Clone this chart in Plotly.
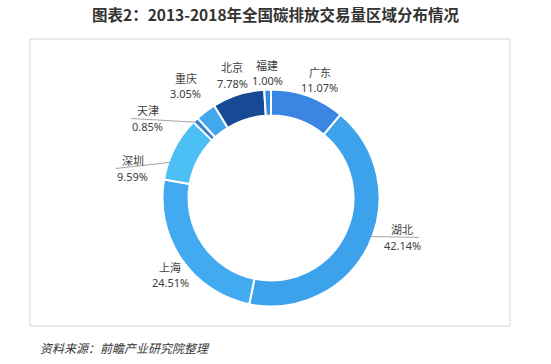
import math
import plotly.graph_objects as go

# ---------------- data ----------------
regions = ["广东", "湖北", "上海", "深圳", "天津", "重庆", "北京", "福建"]
shares = [11.07, 42.14, 24.51, 9.59, 0.85, 3.05, 7.78, 1.00]
title_text = "图表2：2013-2018年全国碳排放交易量区域分布情况"
source_text = "资料来源：前瞻产业研究院整理"

# ---------------- style ----------------
colors = ["#3B86E2", "#3DA2EC", "#42AAF0", "#4BC0F5",
          "#3A7FD0", "#43A7EE", "#174A94", "#3A8ADB"]
W, H = 551, 364
CX, CY, R = 271, 198, 108.5
HOLE = 0.76
FONT = "Noto Sans CJK SC, Noto Sans, sans-serif"
NUMFONT = "Noto Sans, sans-serif"
# label placement relative to each slice's mid-angle (degrees / px beyond the ring)
label_turn = [2.5, -9, -3, -15, -13, 0, 0, 0]
label_gap = [-1, 7, -5, 12, 15, 10, 1, 2]
leader = [False, True, False, True, True, False, False, False]
LW, LH = 36, 29
LINE_STEP = 8


def px(x):
    return x / W


def py(y):
    return 1 - y / H


fig = go.Figure(go.Pie(
    labels=regions, values=shares, sort=False, direction="clockwise",
    rotation=0, hole=HOLE, textinfo="none", showlegend=False,
    hoverinfo="label+percent",
    marker=dict(colors=colors, line=dict(color="white", width=2)),
    domain=dict(x=[px(CX - R), px(CX + R)], y=[py(CY + R), py(CY - R)]),
))

annotations = []
shapes = []
total = sum(shares)
cum = 0.0
for name, v, turn, gap, lead in zip(regions, shares, label_turn, label_gap, leader):
    a0 = cum / total * 360
    a1 = (cum + v) / total * 360
    mid = (a0 + a1) / 2
    cum += v
    th = math.radians(mid + turn)
    dx, dy = math.sin(th), -math.cos(th)
    support = abs(dx) * LW / 2 + abs(dy) * LH / 2
    r = R + gap + support
    lx, ly = CX + r * dx, CY + r * dy
    annotations.append(dict(
        x=px(lx), y=py(ly - LINE_STEP), xref="paper", yref="paper",
        text=name, showarrow=False, xanchor="center", yanchor="middle",
        font=dict(family=FONT, size=11, color="#404040"),
    ))
    annotations.append(dict(
        x=px(lx), y=py(ly + LINE_STEP), xref="paper", yref="paper",
        text=f"{v:.2f}%", showarrow=False, xanchor="center", yanchor="middle",
        font=dict(family=NUMFONT, size=11, color="#404040"),
    ))
    if lead:
        ea = mid + 0.5 * turn
        ea = min(max(ea, a0 + 1), a1 - 1)
        ea = math.radians(ea)
        ex, ey = CX + (R - 2) * math.sin(ea), CY - (R - 2) * math.cos(ea)
        sx = lx + (1 if dx > 0 else -1) * (LW / 2 - 1)
        shapes.append(dict(type="line", xref="paper", yref="paper",
                           x0=px(sx), y0=py(ly), x1=px(ex), y1=py(ey),
                           line=dict(color="#A6A6A6", width=1)))

# frame
shapes.append(dict(type="rect", xref="paper", yref="paper",
                   x0=px(30), x1=px(510), y0=py(326), y1=py(39),
                   line=dict(color="#D4D4D4", width=1), layer="below"))

annotations.append(dict(
    x=px(275.5), y=py(14), xref="paper", yref="paper", text=f"<b>{title_text}</b>",
    showarrow=False, xanchor="center", yanchor="middle",
    font=dict(family=FONT, size=15.5, color="#333333")))
annotations.append(dict(
    x=px(38), y=py(347), xref="paper", yref="paper", text=f"<i>{source_text}</i>",
    showarrow=False, xanchor="left", yanchor="middle",
    font=dict(family=FONT, size=12, color="#333333")))

fig.update_layout(
    width=W, height=H, margin=dict(l=0, r=0, t=0, b=0),
    paper_bgcolor="white", plot_bgcolor="white",
    annotations=annotations, shapes=shapes,
)
fig.write_html(
    "out.html",
    config={"displayModeBar": False},
    post_script="document.body.style.margin='0';document.body.style.overflow='hidden';",
)
